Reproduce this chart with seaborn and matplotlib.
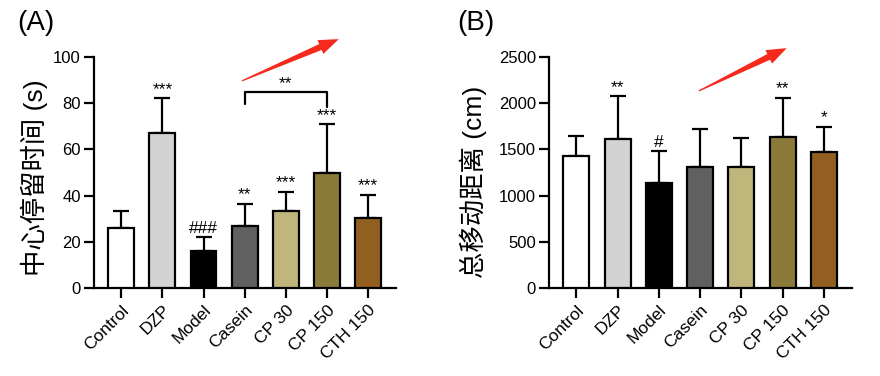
import matplotlib
import matplotlib.pyplot as plt
import seaborn as sns
import numpy as np
from matplotlib.patches import Polygon

matplotlib.use("agg")

groups = ["Control", "DZP", "Model", "Casein", "CP 30", "CP 150", "CTH 150"]
bar_colors = ["#ffffff", "#d3d3d3", "#000000", "#606060", "#c0b67b", "#8b7b3b", "#935f21"]

time_mean = [26.2, 67.1, 16.2, 27.0, 33.5, 49.7, 30.2]
time_err = [7.3, 15.1, 5.9, 9.5, 8.2, 21.3, 10.3]
time_marks = ["", "***", "###", "**", "***", "***", "***"]

dist_mean = [1427, 1617, 1142, 1311, 1308, 1632, 1473]
dist_err = [220, 462, 340, 414, 320, 430, 275]
dist_marks = ["", "**", "#", "", "", "**", "*"]

bracket_pair = (3, 5)
bracket_label = "**"
bracket_y = 84.7
bracket_feet = (79.5, 78.4)

sns.set_style("ticks")
plt.rcParams["font.family"] = ["Liberation Sans", "Noto Sans CJK SC", "DejaVu Sans"]
plt.rcParams["axes.linewidth"] = 1.6
plt.rcParams["axes.edgecolor"] = "black"
plt.rcParams["text.color"] = "black"
plt.rcParams["axes.labelcolor"] = "black"
plt.rcParams["xtick.color"] = "black"
plt.rcParams["ytick.color"] = "black"

fig = plt.figure(figsize=(8.8, 3.76), dpi=100)
axA = fig.add_axes([0.107, 0.234, 0.343, 0.614])
axB = fig.add_axes([0.624, 0.234, 0.344, 0.614])


def draw_panel(ax, means, errs, marks, ymax, step, ylabel, pad, label_xy):
    sns.barplot(x=groups, y=means, hue=groups, palette=bar_colors, saturation=1,
                edgecolor="black", linewidth=1.6, width=0.63, legend=False, ax=ax, zorder=3)
    xs = np.arange(len(groups))
    ax.errorbar(xs, means, yerr=[np.zeros(len(errs)), errs], fmt="none", ecolor="black",
                elinewidth=1.6, capsize=6, capthick=1.6, zorder=2)
    for x, m, e, s in zip(xs, means, errs, marks):
        if s:
            ax.text(x, m + e + pad, s, ha="center", va="bottom", fontsize=12.5)
    ax.set_ylim(0, ymax)
    ax.set_yticks(np.arange(0, ymax + 1, step))
    ax.set_xlim(-0.66, len(groups) - 1 + 0.68)
    ax.set_xticks(xs)
    ax.set_xticklabels(groups, rotation=45, ha="right", va="top", rotation_mode="anchor")
    ax.tick_params(axis="both", length=7.5, width=1.6, labelsize=12, pad=2)
    ax.tick_params(axis="x", labelsize=12.5, pad=3)
    ax.set_xlabel("")
    ax.set_ylabel(ylabel, fontsize=19)
    ax.yaxis.set_label_coords(*label_xy)
    sns.despine(ax=ax)


draw_panel(axA, time_mean, time_err, time_marks, 100, 20, "中心停留时间 (s)", 0.5, (-0.152, 0.476))
draw_panel(axB, dist_mean, dist_err, dist_marks, 2500, 500, "总移动距离 (cm)", 15, (-0.205, 0.459))

# bracket between Casein and CP 150
x0, x1 = bracket_pair
axA.plot([x0, x0, x1, x1], [bracket_feet[0], bracket_y, bracket_y, bracket_feet[1]],
         color="black", lw=1.6, clip_on=False)
axA.text((x0 + x1) / 2, bracket_y + 0.8, bracket_label, ha="center", va="bottom", fontsize=12.5)

fig.text(0.02, 0.94, "(A)", fontsize=20, va="center")
fig.text(0.52, 0.94, "(B)", fontsize=20, va="center")


def red_arrow(tail, tip):
    W, H = fig.get_size_inches() * fig.dpi
    t = np.array([tail[0] * W, tail[1] * H])
    h = np.array([tip[0] * W, tip[1] * H])
    d = h - t
    L = np.hypot(*d)
    u = d / L
    n = np.array([-u[1], u[0]])
    base = h - u * 20
    pts = [t + n * 0.6, base + n * 3.2, base + n * 7.5, h, base - n * 7.5, base - n * 3.2, t - n * 0.6]
    pts = [(p[0] / W, p[1] / H) for p in pts]
    fig.patches.append(Polygon(pts, closed=True, transform=fig.transFigure,
                               facecolor="#f52a1c", edgecolor="none"))


red_arrow((0.275, 0.785), (0.385, 0.896))
red_arrow((0.794, 0.758), (0.894, 0.872))

fig.savefig("out.png", dpi=100)
